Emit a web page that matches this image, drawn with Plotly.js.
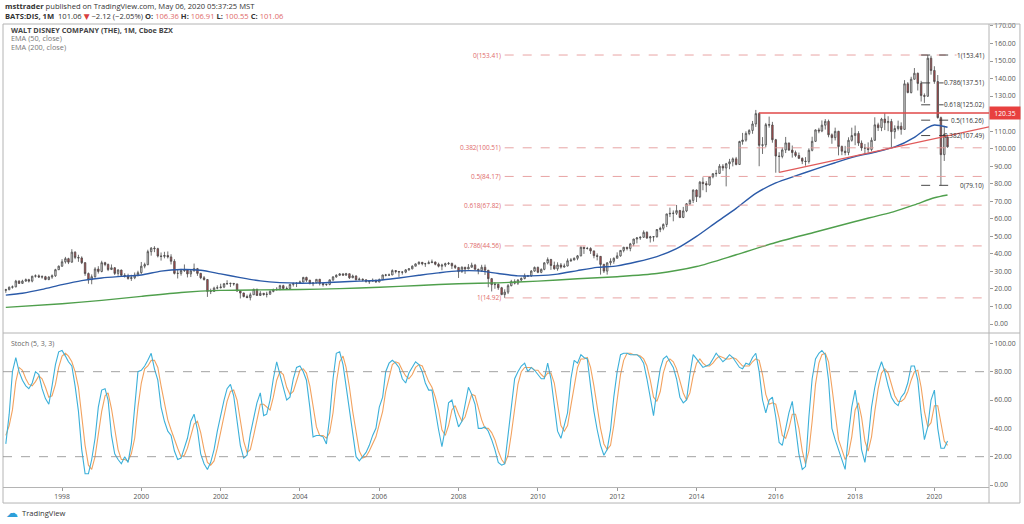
<!DOCTYPE html>
<html><head><meta charset="utf-8">
<script src="https://cdn.plot.ly/plotly-3.0.1.min.js"></script>
<style>html,body{margin:0;padding:0;background:#fff;}#chart{width:1024px;height:524px;}</style>
</head><body><div id="chart"></div>
<script>
// Monthly candles, Aug 1996 .. May 2020
const firstYear = 1996, firstMonth = 8;
const openP = [
19.2,19.6,21.0,21.2,24.5,
23.2,24.5,25.3,24.5,27.3,27.5,26.8,27.0,25.4,26.8,27.5,31.0,
33.0,35.5,37.3,35.3,41.0,38.0,37.7,35.0,28.8,25.3,27.0,31.4,
30.0,35.0,34.0,31.1,32.1,28.9,30.8,27.8,27.5,26.0,26.4,27.9,
29.3,33.0,33.9,41.3,43.3,43.0,38.8,38.6,39.1,38.3,35.8,28.9,
28.9,30.5,30.9,28.6,30.3,31.6,28.9,26.4,25.4,18.6,18.6,20.5,
20.7,21.1,23.0,23.1,23.2,22.9,18.9,17.7,15.7,15.1,16.7,19.8,
16.3,17.5,16.9,17.0,18.6,19.6,19.8,21.9,20.3,20.2,22.6,23.1,
23.3,24.0,26.6,25.0,23.0,23.5,25.5,23.1,22.5,22.6,25.2,26.9,
27.8,28.6,27.9,28.7,26.4,27.4,25.2,25.6,25.2,24.1,24.4,24.9,
24.0,25.3,28.0,27.9,28.0,30.5,30.0,29.7,29.6,30.9,31.5,33.0,
34.3,35.2,34.4,34.4,35.0,35.4,34.1,33.0,33.6,34.4,34.6,33.2,
32.3,29.9,32.4,31.4,32.4,33.6,31.2,30.4,32.4,30.7,25.9,22.5,
22.7,20.7,16.8,18.2,21.9,24.2,23.3,25.1,26.0,27.5,27.4,30.2,
32.3,29.5,31.2,34.9,36.8,33.4,31.5,33.7,32.5,33.1,36.1,36.5,
37.5,38.9,43.8,43.1,43.1,41.7,39.0,38.6,34.0,30.2,34.9,35.8,
37.5,38.9,42.0,43.8,43.1,45.7,48.5,49.1,49.5,52.3,49.1,49.7,
49.8,53.9,54.6,56.8,62.8,63.1,63.2,64.7,60.8,64.5,68.6,70.5,
76.4,72.6,80.9,80.1,79.3,84.0,85.7,85.9,90.0,89.0,91.4,92.5,
94.2,91.0,104.1,104.9,108.7,110.4,114.1,120.0,101.9,102.2,113.7,113.5,
105.1,95.8,95.6,99.3,103.3,99.2,97.8,96.1,94.5,92.9,92.7,99.1,
104.2,110.7,110.1,113.4,115.6,107.9,106.3,109.9,101.2,98.6,97.8,104.8,
107.5,108.7,103.2,100.4,100.3,99.5,104.8,113.6,112.0,116.9,114.8,115.5,
109.7,111.5,112.8,111.0,137.0,132.0,139.6,143.0,137.2,130.3,129.9,151.6,
144.6,138.3,117.7,96.6,106.36];
const highP = [
20.1,21.4,22.0,25.2,25.0,
25.3,26.0,25.8,27.5,28.3,28.3,27.8,27.5,27.3,28.3,31.5,33.4,
37.0,38.3,37.8,42.7,41.5,39.5,38.6,35.3,29.4,28.3,32.4,33.0,
36.1,35.5,34.5,34.0,32.5,31.3,31.0,29.0,28.7,28.1,29.4,30.4,
35.4,35.0,42.4,43.9,44.4,43.5,40.8,41.2,41.4,39.8,37.0,31.3,
31.5,34.0,31.0,30.9,34.5,32.0,29.2,27.4,25.7,20.2,21.3,22.1,
23.0,23.3,25.0,23.6,23.3,23.0,19.2,17.9,16.8,17.9,20.2,20.2,
18.8,17.8,18.4,19.3,20.2,21.0,22.4,22.4,21.4,22.9,23.7,23.8,
24.8,26.9,27.0,25.2,23.6,25.5,25.8,23.5,23.0,25.4,27.3,28.4,
29.0,29.0,29.2,28.8,28.2,27.8,26.5,26.0,25.5,25.0,26.0,25.4,
26.0,28.1,28.6,28.8,31.2,30.8,30.2,30.0,31.3,31.8,33.5,34.6,
35.8,35.4,34.9,36.2,36.8,35.6,35.0,34.4,35.0,35.4,35.0,33.9,
32.3,32.9,32.6,34.2,35.0,34.3,31.6,33.8,33.9,30.7,26.3,23.9,
23.0,21.2,19.8,22.8,25.2,25.5,25.6,26.6,28.8,28.0,30.8,32.8,
32.8,31.7,35.3,38.0,37.2,35.6,35.2,34.8,34.5,37.4,37.6,38.0,
39.4,44.3,44.0,44.0,43.8,41.9,40.3,38.8,34.4,35.3,37.5,38.0,
40.9,42.2,44.0,44.0,46.3,48.6,49.6,50.0,53.4,52.9,50.3,50.1,
54.2,55.5,57.4,62.9,66.4,64.8,67.9,65.1,66.8,69.0,71.2,76.8,
76.8,81.6,83.7,81.5,84.4,86.1,87.9,91.2,91.2,91.9,94.2,95.0,
95.3,104.5,109.0,109.9,111.1,115.8,122.1,120.7,106.6,114.7,118.3,115.3,
105.6,98.0,100.6,106.7,103.3,101.8,98.9,97.8,95.0,95.2,100.2,106.8,
111.0,111.9,116.1,116.9,116.6,108.7,112.0,110.2,101.8,101.6,106.5,112.0,
113.2,110.0,104.7,102.7,103.6,106.4,117.9,114.8,117.6,120.2,118.5,117.0,
113.3,116.0,115.0,139.1,138.0,141.0,146.0,143.4,138.7,131.5,153.41,153.0,
147.0,142.0,118.3,113.0,106.91];
const lowP = [
17.8,19.3,20.2,21.0,22.9,
22.9,24.1,23.7,23.8,26.5,26.3,25.9,25.0,25.0,25.8,26.9,30.8,
32.6,34.5,34.2,35.0,37.0,35.5,34.2,27.5,23.0,22.7,26.4,28.8,
29.5,33.0,30.2,30.8,28.0,27.5,27.0,26.5,25.3,24.6,25.6,27.2,
28.6,31.8,33.5,39.0,41.0,38.0,36.2,37.5,37.4,34.0,28.3,26.0,
27.6,29.7,26.6,26.8,30.0,27.5,25.6,24.8,15.5,17.1,18.4,19.8,
20.3,20.5,22.3,21.1,21.9,18.3,14.6,15.2,14.8,13.5,16.6,16.2,
16.0,16.2,15.2,16.8,18.1,19.1,19.3,19.9,19.6,20.0,21.4,21.1,
22.9,23.8,24.0,22.8,21.6,23.3,22.0,21.4,21.8,22.1,24.5,26.4,
27.5,27.6,27.5,25.7,26.2,25.0,25.0,24.4,23.8,22.9,24.2,23.5,
23.8,25.1,27.2,27.5,27.9,28.9,26.9,28.2,29.0,30.4,31.2,32.9,
33.9,33.5,32.6,34.3,34.8,33.5,32.3,30.7,32.5,33.7,31.4,31.4,
26.3,29.2,28.6,31.3,32.2,31.0,28.4,29.8,28.0,21.0,18.6,20.1,
19.5,16.5,14.92,17.1,21.5,22.6,22.3,24.4,25.5,26.9,27.0,29.8,
29.0,29.0,30.7,34.0,30.9,31.0,30.4,31.6,32.2,32.9,35.4,36.4,
36.4,38.6,40.0,42.5,40.0,37.5,36.3,28.2,29.1,28.2,33.4,34.4,
37.5,38.4,40.9,42.0,41.5,44.4,46.0,48.0,49.1,48.5,46.5,47.1,
49.3,52.4,53.5,55.3,61.0,58.6,62.2,60.4,60.4,63.8,67.8,69.0,
69.6,71.8,76.3,75.2,79.0,83.1,84.0,85.6,87.4,78.5,88.3,89.9,
90.5,90.8,102.3,104.0,107.7,108.5,112.4,90.0,97.0,100.8,112.0,103.4,
86.3,86.4,94.5,97.5,98.8,94.9,95.2,94.1,91.2,90.3,91.5,98.5,
103.8,108.8,109.4,110.9,106.5,102.8,104.7,96.2,96.3,96.2,96.3,104.0,
102.0,101.6,98.8,96.8,97.7,98.5,104.4,110.1,110.0,110.6,110.0,100.4,
105.7,110.4,108.0,110.8,131.6,131.5,139.4,133.2,126.9,126.1,129.6,142.2,
137.0,117.2,79.07,93.0,100.55];
const closeP = [
19.6,21.0,21.2,24.5,23.2,
24.5,25.3,24.5,27.3,27.5,26.8,27.0,25.4,26.8,27.5,31.0,33.0,
35.5,37.3,35.3,41.0,38.0,37.7,35.0,28.8,25.3,27.0,31.4,30.0,
35.0,34.0,31.1,32.1,28.9,30.8,27.8,27.5,26.0,26.4,27.9,29.3,
33.0,33.9,41.3,43.3,43.0,38.8,38.6,39.1,38.3,35.8,28.9,28.9,
30.5,30.9,28.6,30.3,31.6,28.9,26.4,25.4,18.6,18.6,20.5,20.7,
21.1,23.0,23.1,23.2,22.9,18.9,17.7,15.7,15.1,16.7,19.8,16.3,
17.5,16.9,17.0,18.6,19.6,19.8,21.9,20.3,20.2,22.6,23.1,23.3,
24.0,26.6,25.0,23.0,23.5,25.5,23.1,22.5,22.6,25.2,26.9,27.8,
28.6,27.9,28.7,26.4,27.4,25.2,25.6,25.2,24.1,24.4,24.9,24.0,
25.3,28.0,27.9,28.0,30.5,30.0,29.7,29.6,30.9,31.5,33.0,34.3,
35.2,34.4,34.4,35.0,35.4,34.1,33.0,33.6,34.4,34.6,33.2,32.3,
29.9,32.4,31.4,32.4,33.6,31.2,30.4,32.4,30.7,25.9,22.5,22.7,
20.7,16.8,18.2,21.9,24.2,23.3,25.1,26.0,27.5,27.4,30.2,32.3,
29.5,31.2,34.9,36.8,33.4,31.5,33.7,32.5,33.1,36.1,36.5,37.5,
38.9,43.8,43.1,43.1,41.7,39.0,38.6,34.0,30.2,34.9,35.8,37.5,
38.9,42.0,43.8,43.1,45.7,48.5,49.1,49.5,52.3,49.1,49.7,49.8,
53.9,54.6,56.8,62.8,63.1,63.2,64.7,60.8,64.5,68.6,70.5,76.4,
72.6,80.9,80.1,79.3,84.0,85.7,85.9,90.0,89.0,91.4,92.5,94.2,
91.0,104.1,104.9,108.7,110.4,114.1,120.0,101.9,102.2,113.7,113.5,105.1,
95.8,95.6,99.3,103.3,99.2,97.8,96.1,94.5,92.9,92.7,99.1,104.2,
110.7,110.1,113.4,115.6,107.9,106.3,109.9,101.2,98.6,97.8,104.8,107.5,
108.7,103.2,100.4,100.3,99.5,104.8,113.6,112.0,116.9,114.8,115.5,109.7,
111.5,112.8,111.0,137.0,132.0,139.6,143.0,137.2,130.3,129.9,151.6,144.6,
138.3,117.7,96.6,108.2,101.06];

// EMA lines
const ema50Dates = ['1996-08-01','1997-01-01','1997-07-01','1998-01-01','1998-07-01','1999-01-01','1999-07-01','2000-01-01','2000-07-01','2001-01-01','2001-07-01','2002-01-01','2002-07-01','2003-01-01','2003-07-01','2004-01-01','2004-07-01','2005-01-01','2005-07-01','2006-01-01','2006-07-01','2007-01-01','2007-07-01','2008-01-01','2008-07-01','2009-01-01','2009-07-01','2010-01-01','2010-07-01','2011-01-01','2011-07-01','2012-01-01','2012-07-01','2013-01-01','2013-07-01','2014-01-01','2014-07-01','2015-01-01','2015-07-01','2016-01-01','2016-07-01','2017-01-01','2017-07-01','2018-01-01','2018-07-01','2019-01-01','2019-07-01','2019-11-01','2020-01-01','2020-05-01'];
const ema50Vals = [16.5,17.6,19.8,22.5,24.8,26.3,27.2,28.0,30.2,31.1,30.7,28.6,26.5,24.6,23.6,23.3,23.5,24.0,24.5,25.0,26.3,27.8,29.2,30.3,30.3,28.8,27.5,27.6,28.5,30.5,32.3,33.2,35.5,38.5,43.0,50.0,58.0,66.0,74.5,80.5,84.5,88.3,92.0,95.5,98.0,101.0,106.5,112.0,113.5,112.2];
const ema200Dates = ['1996-08-01','1998-01-01','1999-01-01','2000-01-01','2001-01-01','2002-01-01','2003-01-01','2004-01-01','2005-01-01','2006-01-01','2007-01-01','2008-01-01','2009-01-01','2010-01-01','2011-01-01','2012-01-01','2013-01-01','2014-01-01','2015-01-01','2016-01-01','2017-01-01','2018-01-01','2019-01-01','2019-07-01','2020-01-01','2020-05-01'];
const ema200Vals = [9.5,11.6,13.5,15.8,18.0,19.2,19.5,19.7,20.2,21.0,22.0,23.0,23.5,24.5,25.8,27.0,28.8,32.8,39.5,46.5,52.5,58.5,64.3,68.0,72.0,73.6];

// Stoch (5,3,3) monthly %K and %D
const stochK = [
29,50,80,90,80,
74,70,68,72,80,78,68,61,57,70,85,94,
95,91,87,84,70,52,25,8,8,18,33,55,
67,68,60,35,22,18,15,20,16,29,55,80,
81,84,88,93,82,74,55,45,38,35,24,18,
19,27,33,45,50,39,22,15,11,16,25,38,
50,60,68,71,63,45,28,19,21,36,48,58,
65,49,50,60,75,87,78,69,60,62,75,83,
84,80,74,55,34,35,35,34,29,48,75,93,
94,85,70,52,35,20,17,20,23,28,35,40,
55,62,80,86,88,86,83,75,72,79,83,87,
85,80,72,67,67,52,39,27,40,58,60,50,
41,45,58,69,64,57,40,40,41,38,32,25,
16,14,15,35,58,75,80,84,86,80,83,81,
78,75,75,86,75,55,38,33,42,51,75,88,
86,92,90,89,70,52,39,28,21,25,39,62,
80,92,93,93,92,92,92,90,86,75,62,49,
67,82,89,91,87,83,75,62,58,60,78,92,
89,86,83,84,85,89,93,90,87,89,92,90,
86,83,82,86,85,90,93,80,60,51,60,62,
48,30,28,40,51,59,40,22,11,13,48,75,
89,93,95,92,74,40,32,25,18,11,36,55,
67,51,25,16,32,55,69,80,87,80,70,62,
58,56,62,65,72,84,84,74,50,32,41,60,
67,40,26,26,31];
const stochD = [
35,42,53,73,83,
81,75,71,70,73,77,75,69,62,63,71,83,
91,93,91,87,80,69,49,28,14,11,20,35,
52,63,65,54,39,25,18,18,17,22,33,55,
72,82,84,88,88,83,70,58,46,39,32,26,
20,21,26,35,43,45,37,25,16,14,17,26,
38,49,59,66,67,60,45,31,23,25,35,47,
57,57,55,53,62,74,80,78,69,64,66,73,
81,82,79,70,54,41,35,35,33,37,51,72,
87,91,83,69,52,36,24,19,20,24,29,34,
43,52,66,76,85,87,86,81,77,75,78,83,
85,84,79,73,69,62,53,39,35,42,53,56,
50,45,48,57,64,63,54,46,40,40,37,32,
24,18,15,21,36,56,71,80,83,83,83,81,
81,78,76,79,79,72,56,42,38,42,56,71,
83,89,89,90,83,70,54,40,29,25,28,42,
60,78,88,93,93,92,92,91,89,84,74,62,
59,66,79,87,89,87,82,73,65,60,65,77,
86,89,86,84,84,86,89,91,90,89,89,90,
89,86,84,84,84,87,89,88,78,64,57,58,
57,47,35,33,40,50,50,40,24,15,24,45,
71,86,92,93,87,69,49,32,25,18,22,34,
53,58,48,31,24,34,52,68,79,82,79,71,
63,59,59,61,66,74,80,81,69,52,41,44,
56,56,44,31,28];

// Drawings
const fibLongVals = [153.41,100.51,84.17,67.82,44.56,14.92];
const fibLongText = ['0(153.41)','0.382(100.51)','0.5(84.17)','0.618(67.82)','0.786(44.56)','1(14.92)'];
const fibShortVals = [153.41,137.51,125.02,116.26,107.49,79.10];
const fibShortText = ['1(153.41)','0.786(137.51)','0.618(125.02)','0.5(116.26)','0.382(107.49)','0(79.10)'];
const resistanceLevel = 120.35;
const trendStart = ['2016-02-01',86.5];
const trendEnd = ['2021-05-18',112.5];

const xTickVals = ['1998-01-01','2000-01-01','2002-01-01','2004-01-01','2006-01-01','2008-01-01','2010-01-01','2012-01-01','2014-01-01','2016-01-01','2018-01-01','2020-01-01'];
const xTickText = ['1998','2000','2002','2004','2006','2008','2010','2012','2014','2016','2018','2020'];

// month dates (categories)
const dates = [];
for (let i = 0; i < closeP.length; i++) {
  const t = (firstMonth - 1) + i;
  const y = firstYear + Math.floor(t / 12);
  const m = (t % 12) + 1;
  dates.push(y + '-' + String(m).padStart(2, '0') + '-01');
}

const X0 = '1996-07-06', X1 = '2021-05-18';
const FONT = '"Open Sans", "DejaVu Sans", sans-serif';
const axisGrey = '#b4b4b4';
const tickFont = {family: FONT, size: 6.8, color: '#555'};

const traces = [
  {type: 'candlestick', x: dates, open: openP, high: highP, low: lowP, close: closeP,
   xaxis: 'x', yaxis: 'y', whiskerwidth: 0,
   increasing: {line: {color: '#4a4a4a', width: 0.8}, fillcolor: '#e2e2e2'},
   decreasing: {line: {color: '#4a4a4a', width: 0.8}, fillcolor: '#b8484b'},
   hoverinfo: 'skip'},
  {type: 'scatter', mode: 'lines', x: ema50Dates, y: ema50Vals, xaxis: 'x', yaxis: 'y',
   line: {color: '#2b5aa8', width: 1.4, shape: 'spline', smoothing: 0.7}, hoverinfo: 'skip'},
  {type: 'scatter', mode: 'lines', x: ema200Dates, y: ema200Vals, xaxis: 'x', yaxis: 'y',
   line: {color: '#4f9f4c', width: 1.4, shape: 'spline', smoothing: 0.7}, hoverinfo: 'skip'},
  {type: 'scatter', mode: 'lines', x: dates, y: stochD, xaxis: 'x', yaxis: 'y2',
   line: {color: '#f2a25f', width: 1.1}, hoverinfo: 'skip'},
  {type: 'scatter', mode: 'lines', x: dates, y: stochK, xaxis: 'x', yaxis: 'y2',
   line: {color: '#3cb0d9', width: 1.1}, hoverinfo: 'skip'}
];

const shapes = [];
const annotations = [];
// frame
shapes.push({type: 'rect', xref: 'paper', yref: 'paper', x0: 0, x1: 1.0314, y0: -0.0346, y1: 1, line: {color: axisGrey, width: 1}});
shapes.push({type: 'line', xref: 'paper', yref: 'paper', x0: 0, x1: 1.0314, y0: 0.3326, y1: 0.3326, line: {color: axisGrey, width: 1}});
shapes.push({type: 'line', xref: 'paper', yref: 'paper', x0: 1, x1: 1, y0: -0.0346, y1: 1, line: {color: axisGrey, width: 1}});
// stoch bands
[80, 20].forEach(v => shapes.push({type: 'line', xref: 'paper', yref: 'y2', x0: 0, x1: 1, y0: v, y1: v, line: {color: '#8a8a8a', width: 0.8, dash: 'dash'}}));
// long-term fib
fibLongVals.forEach((v, i) => {
  shapes.push({type: 'line', xref: 'x', yref: 'y', x0: '2009-03-01', x1: X1, y0: v, y1: v, line: {color: '#e59a9a', width: 0.9, dash: 'dash'}});
  annotations.push({xref: 'x', yref: 'y', x: '2009-03-01', y: v, text: fibLongText[i], showarrow: false, xanchor: 'right', yanchor: 'middle', xshift: -2, font: {family: FONT, size: 6.5, color: '#e06a6a'}});
});
// short-term fib (labels end just left of the price scale)
fibShortVals.forEach((v, i) => {
  shapes.push({type: 'line', xref: 'x', yref: 'y', x0: '2019-09-01', x1: '2020-07-15', y0: v, y1: v, line: {color: '#333', width: 0.9, dash: 'dash'}});
  const overCandles = (v > 93 && v < 113);
  annotations.push({xref: 'paper', yref: 'y', x: 0.9959, y: v, text: fibShortText[i], showarrow: false, xanchor: 'right', yanchor: 'middle',
    bgcolor: overCandles ? 'rgba(255,255,255,0)' : 'rgba(255,255,255,0.85)', borderpad: 0, font: {family: FONT, size: 6.4, color: '#333'}});
});
// resistance & trend line
shapes.push({type: 'line', xref: 'x', yref: 'y', x0: '2015-08-01', x1: X1, y0: resistanceLevel, y1: resistanceLevel, line: {color: '#e04848', width: 1.3}});
shapes.push({type: 'line', xref: 'x', yref: 'y', x0: trendStart[0], y0: trendStart[1], x1: trendEnd[0], y1: trendEnd[1], line: {color: '#e05a5a', width: 1.2}});
annotations.push({xref: 'paper', yref: 'y', x: 1, y: resistanceLevel, text: resistanceLevel.toFixed(2), showarrow: false, xanchor: 'left', yanchor: 'middle', xshift: 0, bgcolor: '#e8403f', width: 30, height: 12, borderpad: 0, font: {family: FONT, size: 6.8, color: '#fff'}});

// header
annotations.push({xref: 'paper', yref: 'paper', x: 0, y: 1.0389, xanchor: 'left', yanchor: 'middle', showarrow: false,
  text: '<b>msttrader</b> published on TradingView.com, May 06, 2020 05:37:25 MST', font: {family: FONT, size: 7.6, color: '#333'}});
const red = '#e06a6a';
annotations.push({xref: 'paper', yref: 'paper', x: 0, y: 1.0173, xanchor: 'left', yanchor: 'middle', showarrow: false,
  text: '<b>BATS:DIS, 1M</b>  101.06 <span style="color:#d9403f">▼</span> −2.12 (−2.05%) <b>O:</b> <span style="color:' + red + '">106.36</span> <b>H:</b> <span style="color:' + red + '">106.91</span> <b>L:</b> <span style="color:' + red + '">100.55</span> <b>C:</b> <span style="color:' + red + '">101.06</span>',
  font: {family: FONT, size: 7.6, color: '#333'}});
// legends
annotations.push({xref: 'paper', yref: 'paper', x: 0.0061, y: 0.9876, xanchor: 'left', yanchor: 'middle', showarrow: false, text: '<b>WALT DISNEY COMPANY (THE), 1M, Cboe BZX</b>', font: {family: FONT, size: 7.3, color: '#444'}});
annotations.push({xref: 'paper', yref: 'paper', x: 0.0061, y: 0.9687, xanchor: 'left', yanchor: 'middle', showarrow: false, text: 'EMA (50, close)', font: {family: FONT, size: 7.3, color: '#777'}});
annotations.push({xref: 'paper', yref: 'paper', x: 0.0061, y: 0.9503, xanchor: 'left', yanchor: 'middle', showarrow: false, text: 'EMA (200, close)', font: {family: FONT, size: 7.3, color: '#777'}});
annotations.push({xref: 'paper', yref: 'paper', x: 0.0061, y: 0.3110, xanchor: 'left', yanchor: 'middle', showarrow: false, text: 'Stoch (5, 3, 3)', font: {family: FONT, size: 7, color: '#666'}});
// TradingView mark
annotations.push({xref: 'paper', yref: 'paper', x: 0.001, y: -0.0562, xanchor: 'left', yanchor: 'middle', showarrow: false, text: '☁', font: {family: '"DejaVu Sans", sans-serif', size: 12, color: '#2d9fd9'}});
annotations.push({xref: 'paper', yref: 'paper', x: 0.0172, y: -0.0562, xanchor: 'left', yanchor: 'middle', showarrow: false, text: 'TradingView', font: {family: FONT, size: 7.6, color: '#333'}});

const layout = {
  width: 1024, height: 524, autosize: false,
  margin: {l: 3, r: 35, t: 24, b: 37, pad: 0},
  paper_bgcolor: '#fff', plot_bgcolor: '#fff',
  showlegend: false, hovermode: false, dragmode: false,
  xaxis: {type: 'date', range: [X0, X1], anchor: 'y2', rangeslider: {visible: false},
    tickvals: xTickVals, ticktext: xTickText, ticks: 'outside', ticklen: 3, tickcolor: '#999',
    showgrid: false, zeroline: false, showline: true, linecolor: axisGrey, linewidth: 1,
    tickfont: tickFont, fixedrange: true},
  yaxis: {domain: [0.3326, 1], range: [-5.1, 171.1], side: 'right', anchor: 'x',
    tickvals: [0,10,20,30,40,50,60,70,80,90,100,110,120,130,140,150,160,170], tickformat: '.2f',
    ticks: 'outside', ticklen: 3, tickcolor: '#999', showgrid: false, zeroline: false, showline: false,
    tickfont: tickFont, fixedrange: true},
  yaxis2: {domain: [0, 0.3326], range: [-1.4, 107.3], side: 'right', anchor: 'x',
    tickvals: [0,20,40,60,80,100], tickformat: '.2f',
    ticks: 'outside', ticklen: 3, tickcolor: '#999', showgrid: false, zeroline: false, showline: false,
    tickfont: tickFont, fixedrange: true},
  shapes: shapes, annotations: annotations
};

Plotly.newPlot('chart', traces, layout, {staticPlot: true, displayModeBar: false});
</script>
</body></html>
